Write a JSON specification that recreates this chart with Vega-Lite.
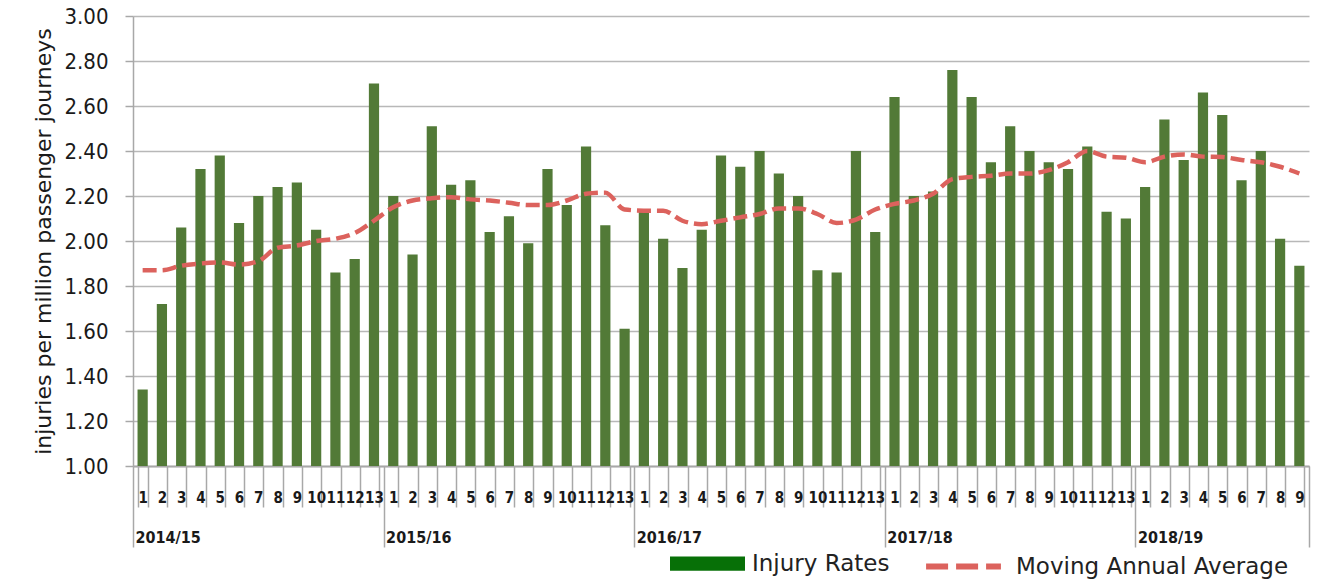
{
  "$schema": "https://vega.github.io/schema/vega-lite/v6.json",
  "autosize": "none",
  "width": 1176,
  "height": 450,
  "padding": {"left": 133, "top": 16, "right": 20, "bottom": 113},
  "background": "white",
  "config": {
    "view": {"stroke": null},
    "font": "DejaVu Sans Condensed",
    "axis": {"labelColor": "#1a1a1a", "titleColor": "#1a1a1a", "domainColor": "#a8a8a8", "tickColor": "#a8a8a8", "gridColor": "#b8b8b8", "domainWidth": 1.5, "tickWidth": 1.5, "gridWidth": 1.5}
  },
  "datasets": {
    "rates": [
      {"idx": 0, "year": "2014/15", "period": 1, "rate": 1.34, "maa": 1.87},
      {"idx": 1, "year": "2014/15", "period": 2, "rate": 1.72, "maa": 1.87},
      {"idx": 2, "year": "2014/15", "period": 3, "rate": 2.06, "maa": 1.89},
      {"idx": 3, "year": "2014/15", "period": 4, "rate": 2.32, "maa": 1.90},
      {"idx": 4, "year": "2014/15", "period": 5, "rate": 2.38, "maa": 1.905},
      {"idx": 5, "year": "2014/15", "period": 6, "rate": 2.08, "maa": 1.895},
      {"idx": 6, "year": "2014/15", "period": 7, "rate": 2.20, "maa": 1.91},
      {"idx": 7, "year": "2014/15", "period": 8, "rate": 2.24, "maa": 1.97},
      {"idx": 8, "year": "2014/15", "period": 9, "rate": 2.26, "maa": 1.98},
      {"idx": 9, "year": "2014/15", "period": 10, "rate": 2.05, "maa": 2.00},
      {"idx": 10, "year": "2014/15", "period": 11, "rate": 1.86, "maa": 2.01},
      {"idx": 11, "year": "2014/15", "period": 12, "rate": 1.92, "maa": 2.035},
      {"idx": 12, "year": "2014/15", "period": 13, "rate": 2.70, "maa": 2.09},
      {"idx": 13, "year": "2015/16", "period": 1, "rate": 2.20, "maa": 2.15},
      {"idx": 14, "year": "2015/16", "period": 2, "rate": 1.94, "maa": 2.18},
      {"idx": 15, "year": "2015/16", "period": 3, "rate": 2.51, "maa": 2.19},
      {"idx": 16, "year": "2015/16", "period": 4, "rate": 2.25, "maa": 2.195},
      {"idx": 17, "year": "2015/16", "period": 5, "rate": 2.27, "maa": 2.185},
      {"idx": 18, "year": "2015/16", "period": 6, "rate": 2.04, "maa": 2.18},
      {"idx": 19, "year": "2015/16", "period": 7, "rate": 2.11, "maa": 2.17},
      {"idx": 20, "year": "2015/16", "period": 8, "rate": 1.99, "maa": 2.16},
      {"idx": 21, "year": "2015/16", "period": 9, "rate": 2.32, "maa": 2.16},
      {"idx": 22, "year": "2015/16", "period": 10, "rate": 2.16, "maa": 2.18},
      {"idx": 23, "year": "2015/16", "period": 11, "rate": 2.42, "maa": 2.21},
      {"idx": 24, "year": "2015/16", "period": 12, "rate": 2.07, "maa": 2.215},
      {"idx": 25, "year": "2015/16", "period": 13, "rate": 1.61, "maa": 2.14},
      {"idx": 26, "year": "2016/17", "period": 1, "rate": 2.13, "maa": 2.135},
      {"idx": 27, "year": "2016/17", "period": 2, "rate": 2.01, "maa": 2.135},
      {"idx": 28, "year": "2016/17", "period": 3, "rate": 1.88, "maa": 2.09},
      {"idx": 29, "year": "2016/17", "period": 4, "rate": 2.05, "maa": 2.075},
      {"idx": 30, "year": "2016/17", "period": 5, "rate": 2.38, "maa": 2.09},
      {"idx": 31, "year": "2016/17", "period": 6, "rate": 2.33, "maa": 2.105},
      {"idx": 32, "year": "2016/17", "period": 7, "rate": 2.40, "maa": 2.12},
      {"idx": 33, "year": "2016/17", "period": 8, "rate": 2.30, "maa": 2.145},
      {"idx": 34, "year": "2016/17", "period": 9, "rate": 2.20, "maa": 2.145},
      {"idx": 35, "year": "2016/17", "period": 10, "rate": 1.87, "maa": 2.12},
      {"idx": 36, "year": "2016/17", "period": 11, "rate": 1.86, "maa": 2.08},
      {"idx": 37, "year": "2016/17", "period": 12, "rate": 2.40, "maa": 2.095},
      {"idx": 38, "year": "2016/17", "period": 13, "rate": 2.04, "maa": 2.14},
      {"idx": 39, "year": "2017/18", "period": 1, "rate": 2.64, "maa": 2.165},
      {"idx": 40, "year": "2017/18", "period": 2, "rate": 2.20, "maa": 2.18},
      {"idx": 41, "year": "2017/18", "period": 3, "rate": 2.22, "maa": 2.21},
      {"idx": 42, "year": "2017/18", "period": 4, "rate": 2.76, "maa": 2.275},
      {"idx": 43, "year": "2017/18", "period": 5, "rate": 2.64, "maa": 2.285},
      {"idx": 44, "year": "2017/18", "period": 6, "rate": 2.35, "maa": 2.29},
      {"idx": 45, "year": "2017/18", "period": 7, "rate": 2.51, "maa": 2.30},
      {"idx": 46, "year": "2017/18", "period": 8, "rate": 2.40, "maa": 2.30},
      {"idx": 47, "year": "2017/18", "period": 9, "rate": 2.35, "maa": 2.315},
      {"idx": 48, "year": "2017/18", "period": 10, "rate": 2.32, "maa": 2.35},
      {"idx": 49, "year": "2017/18", "period": 11, "rate": 2.42, "maa": 2.40},
      {"idx": 50, "year": "2017/18", "period": 12, "rate": 2.13, "maa": 2.375},
      {"idx": 51, "year": "2017/18", "period": 13, "rate": 2.10, "maa": 2.37},
      {"idx": 52, "year": "2018/19", "period": 1, "rate": 2.24, "maa": 2.35},
      {"idx": 53, "year": "2018/19", "period": 2, "rate": 2.54, "maa": 2.375},
      {"idx": 54, "year": "2018/19", "period": 3, "rate": 2.36, "maa": 2.385},
      {"idx": 55, "year": "2018/19", "period": 4, "rate": 2.66, "maa": 2.375},
      {"idx": 56, "year": "2018/19", "period": 5, "rate": 2.56, "maa": 2.373},
      {"idx": 57, "year": "2018/19", "period": 6, "rate": 2.27, "maa": 2.36},
      {"idx": 58, "year": "2018/19", "period": 7, "rate": 2.40, "maa": 2.35},
      {"idx": 59, "year": "2018/19", "period": 8, "rate": 2.01, "maa": 2.33},
      {"idx": 60, "year": "2018/19", "period": 9, "rate": 1.89, "maa": 2.30}
    ],
    "years": [
      {"start": 0, "year": "2014/15"},
      {"start": 13, "year": "2015/16"},
      {"start": 26, "year": "2016/17"},
      {"start": 39, "year": "2017/18"},
      {"start": 52, "year": "2018/19"},
      {"start": 61, "year": ""}
    ]
  },
  "layer": [
    {
      "data": {"name": "rates"},
      "encoding": {
        "x": {
          "field": "idx",
          "type": "ordinal",
          "scale": {"paddingInner": 0.47, "paddingOuter": 0.235},
          "axis": {
            "title": null,
            "labelExpr": "isNumber(datum.value) ? (datum.value % 13) + 1 : ''",
            "labelAngle": 0,
            "labelFontSize": 15,
            "labelFontWeight": "bold",
            "labelBaseline": "middle",
            "labelPadding": -10,
            "labelOverlap": false,
            "tickSize": 41,
            "tickBand": "extent",
            "grid": false
          }
        },
        "y": {
          "field": "rate",
          "type": "quantitative",
          "scale": {"domain": [1, 3], "zero": false, "clamp": true, "nice": false},
          "axis": {
            "title": "injuries per million passenger journeys",
            "titleFont": "DejaVu Sans",
            "titleFontSize": 22,
            "titleFontWeight": "normal",
            "titlePadding": 8,
            "values": [1, 1.2, 1.4, 1.6, 1.8, 2, 2.2, 2.4, 2.6, 2.8, 3],
            "format": ".2f",
            "labelFontSize": 22,
            "labelPadding": 17,
            "tickSize": 8,
            "grid": true
          }
        }
      },
      "layer": [
        {
          "mark": {"type": "bar", "color": "#527a37"}
        },
        {
          "mark": {"type": "point", "filled": true, "size": 0, "color": "#077007", "opacity": 1},
          "encoding": {
            "shape": {
              "datum": "Injury Rates",
              "scale": {"range": ["M-1,-0.19H1V0.19H-1Z"]},
              "legend": {
                "orient": "none",
                "legendX": 537,
                "legendY": 510,
                "title": null,
                "padding": 0,
                "symbolSize": 5625,
                "symbolStrokeWidth": 0,
                "symbolFillColor": "#077007",
                "labelFontSize": 23,
                "labelFont": "DejaVu Sans",
                "labelColor": "#222222",
                "labelOffset": 7,
                "labelLimit": 0
              }
            }
          }
        },
        {
          "mark": {"type": "line", "strokeWidth": 4.5, "strokeDash": [14, 6], "interpolate": "monotone"},
          "encoding": {
            "y": {"field": "maa", "type": "quantitative"},
            "stroke": {
              "datum": "Moving Annual Average",
              "scale": {"range": ["#dc625d"]},
              "legend": {
                "orient": "none",
                "legendX": 790,
                "legendY": 510,
                "title": null,
                "padding": 0,
                "symbolType": "stroke",
                "symbolSize": 5600,
                "symbolStrokeWidth": 6,
                "symbolDash": [22, 8],
                "labelFontSize": 23,
                "labelFont": "DejaVu Sans",
                "labelColor": "#222222",
                "labelOffset": 12,
                "labelLimit": 0
              }
            }
          }
        }
      ]
    },
    {
      "data": {"name": "years"},
      "mark": {"type": "rule", "opacity": 0},
      "encoding": {
        "x": {
          "field": "start",
          "type": "quantitative",
          "scale": {"domain": [0, 61], "nice": false, "zero": false},
          "axis": {
            "orient": "bottom",
            "title": null,
            "values": [0, 13, 26, 39, 52, 61],
            "labelExpr": "datum.value == 0 ? '2014/15' : datum.value == 13 ? '2015/16' : datum.value == 26 ? '2016/17' : datum.value == 39 ? '2017/18' : datum.value == 52 ? '2018/19' : ''",
            "labelAlign": "left",
            "labelBaseline": "middle",
            "labelOffset": 2,
            "labelPadding": -10,
            "labelFontSize": 16,
            "labelFontWeight": "bold",
            "labelFlush": false,
            "labelOverlap": false,
            "tickSize": 81,
            "grid": false
          }
        }
      }
    }
  ],
  "resolve": {"scale": {"x": "independent"}, "axis": {"x": "independent"}}
}
